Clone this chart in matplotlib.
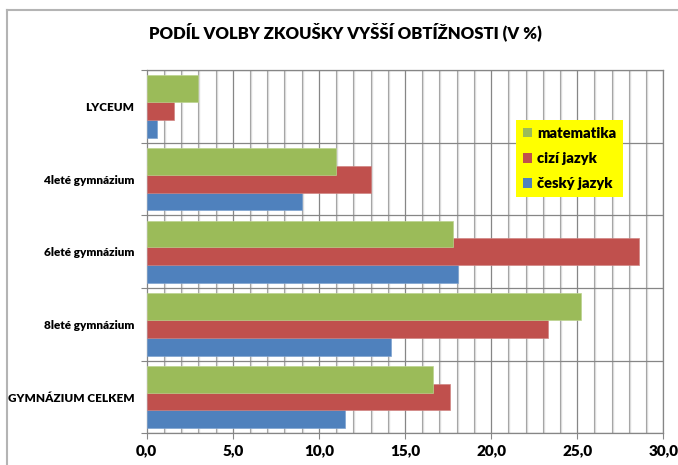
import numpy as np
import matplotlib
matplotlib.use("Agg")
import matplotlib.pyplot as plt
from matplotlib.lines import Line2D
from matplotlib.patches import Patch

plt.rcParams['font.family'] = ['Lato', 'DejaVu Sans']

categories = ['LYCEUM', '4leté gymnázium', '6leté gymnázium',
              '8leté gymnázium', 'GYMNÁZIUM CELKEM']
matematika = [3.0, 11.0, 17.8, 25.2, 16.6]
cizi_jazyk = [1.6, 13.0, 28.6, 23.3, 17.6]
cesky_jazyk = [0.6, 9.0, 18.1, 14.2, 11.5]
x_ticks = [0, 5, 10, 15, 20, 25, 30]
x_labels = ['0,0', '5,0', '10,0', '15,0', '20,0', '25,0', '30,0']

GREEN = '#9bbb59'
RED = '#c0504d'
BLUE = '#4f81bd'
GRID = '#868686'
WEIGHT = 'heavy'

W, H = 678, 465
fig = plt.figure(figsize=(W / 100, H / 100), dpi=100)
ax = fig.add_axes([146.7 / W, (H - 433.3) / H, (663.3 - 146.7) / W, (433.3 - 70.3) / H])

y = np.arange(len(categories))
h = 0.37
step = 0.245
ax.barh(y + step, cesky_jazyk, height=h, color=BLUE, edgecolor='#7fa3d0', linewidth=0.5, zorder=3)
ax.barh(y, cizi_jazyk, height=h, color=RED, edgecolor='#d08583', linewidth=0.5, zorder=4)
ax.barh(y - step, matematika, height=h, color=GREEN, edgecolor='#bcd38f', linewidth=0.5, zorder=5)

ax.set_xlim(0, 30)
ax.set_ylim(len(categories) - 0.5, -0.5)

# grid: minor every 1 with light shadow, major every 5
for v in range(1, 30):
    if v % 5:
        ax.axvline(v, color='#a6a6a6', lw=0.8, zorder=1)
        ax.axvline(v + 0.06, color='#dedede', lw=1.0, zorder=0.9)
for v in x_ticks[1:]:
    ax.axvline(v, color=GRID, lw=0.9, zorder=1.2)
for b in np.arange(-0.5, len(categories), 1.0):
    ax.axhline(b, color=GRID, lw=0.9, zorder=1.2)

ax.set_xticks(x_ticks)
ax.set_xticklabels(x_labels, fontsize=11, fontweight=WEIGHT)
ax.set_yticks(np.arange(-0.5, len(categories), 1.0))
ax.set_yticklabels([])
ax.set_yticks(y, minor=True)
ax.set_yticklabels(categories, minor=True, fontsize=8.5, fontweight=WEIGHT)
ax.tick_params(axis='y', which='minor', length=0, pad=9)
ax.tick_params(axis='y', which='major', length=4, color=GRID, direction='out')
ax.tick_params(axis='x', length=4, color=GRID, direction='out', pad=4)

for s in ax.spines.values():
    s.set_color(GRID)
    s.set_linewidth(0.9)

fig.text(345 / W, 1 - 32 / H, 'PODÍL VOLBY ZKOUŠKY VYŠŠÍ OBTÍŽNOSTI (V %)',
         ha='center', va='center', fontsize=12, fontweight=WEIGHT)

handles = [Patch(facecolor=GREEN), Patch(facecolor=RED), Patch(facecolor=BLUE)]
leg = ax.legend(handles, ['matematika', 'cizí jazyk', 'český jazyk'],
                loc='upper left', bbox_to_anchor=(516 / W, 1 - 120 / H),
                bbox_transform=fig.transFigure, borderaxespad=0,
                prop={'weight': WEIGHT, 'size': 10.5}, frameon=True,
                fancybox=False, framealpha=1, facecolor='#ffff00',
                edgecolor='none', handlelength=0.65, handleheight=0.65,
                handletextpad=0.35, labelspacing=0.85, borderpad=0.45)
leg.set_zorder(10)

# outer chart frame
fig.add_artist(Line2D([7 / W, 7 / W], [0, 1 - 10 / H], transform=fig.transFigure,
                      color='#b4b4b4', lw=1.5))
fig.add_artist(Line2D([7 / W, 1], [1 - 10 / H, 1 - 10 / H], transform=fig.transFigure,
                      color='#b4b4b4', lw=1.5))

fig.savefig('out.png', dpi=100)
